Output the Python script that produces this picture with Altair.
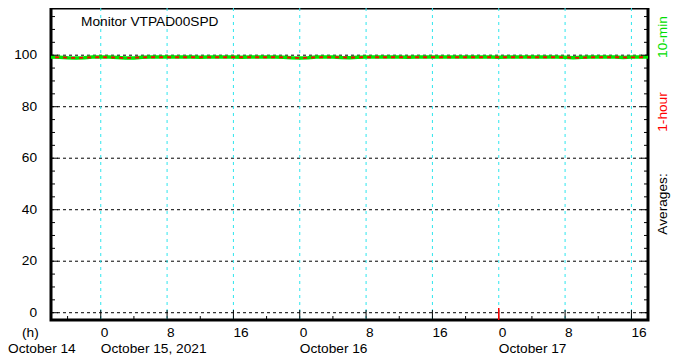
import altair as alt
import pandas as pd

W, H = 597, 312
FONT = "Liberation Sans"
FS = 13.7

# ---------------- data ----------------
green_vals = [99.3, 99.2, 99.0, 98.9, 99.0, 99.3, 99.3, 99.3, 99.1, 98.9,
              98.9, 99.2, 99.3, 99.3, 99.3, 99.3, 99.3, 99.3, 99.2, 99.3,
              99.3, 99.3, 99.3, 99.2, 99.3, 99.3, 99.3, 99.3, 99.2, 99.0,
              98.9, 99.0, 99.3, 99.3, 99.3, 99.1, 99.0, 99.2, 99.3, 99.3,
              99.3, 99.3, 99.3, 99.2, 99.3, 99.3, 99.3, 99.3, 99.3, 99.3,
              99.3, 99.3, 99.3, 99.3, 99.2, 99.3, 99.3, 99.3, 99.3, 99.3,
              99.3, 99.3, 99.2, 99.0, 99.2, 99.3, 99.3, 99.3, 99.3, 99.1,
              99.3, 99.3, 99.3]
red_vals = [99.2, 99.1, 99.0, 99.0, 99.1, 99.2, 99.2, 99.1, 99.0, 99.0,
            99.1, 99.2, 99.2, 99.2, 99.2, 99.2, 99.2, 99.2, 99.2, 99.2,
            99.2, 99.2, 99.2, 99.2, 99.2, 99.2, 99.2, 99.2, 99.1, 99.0,
            99.0, 99.1, 99.2, 99.2, 99.2, 99.1, 99.1, 99.2, 99.2, 99.2,
            99.2, 99.2, 99.2, 99.2, 99.2, 99.2, 99.2, 99.2, 99.2, 99.2,
            99.2, 99.2, 99.2, 99.2, 99.2, 99.2, 99.2, 99.2, 99.2, 99.2,
            99.2, 99.2, 99.1, 99.0, 99.1, 99.2, 99.2, 99.2, 99.2, 99.1,
            99.2, 99.2]

grid_times = ["2021-10-15T00:00:00", "2021-10-15T08:00:00", "2021-10-15T16:00:00",
              "2021-10-16T00:00:00", "2021-10-16T08:00:00", "2021-10-16T16:00:00",
              "2021-10-17T00:00:00", "2021-10-17T08:00:00", "2021-10-17T16:00:00"]
hour_labels = ["0", "8", "16", "0", "8", "16", "0", "8", "16"]
day_times = ["2021-10-15T00:00:00", "2021-10-16T00:00:00", "2021-10-17T00:00:00"]
day_labels = ["October 15, 2021", "October 16", "October 17"]
minor_x_ticks = ["2021-10-14T20:00:00", "2021-10-15T04:00:00", "2021-10-15T12:00:00",
                 "2021-10-15T20:00:00", "2021-10-16T04:00:00", "2021-10-16T12:00:00",
                 "2021-10-16T20:00:00", "2021-10-17T04:00:00", "2021-10-17T12:00:00"]
marker_time = ["2021-10-17T00:00:00"]
y_labels = [0, 20, 40, 60, 80, 100]
y_label_text = ["0", "20", "40", "60", "80", "100"]
y_minor = [5, 10, 15, 25, 30, 35, 45, 50, 55, 65, 70, 75, 85, 90, 95, 105, 110, 115]

green_t = pd.date_range("2021-10-14 18:00", periods=len(green_vals), freq="h").strftime("%Y-%m-%dT%H:%M:%S")
red_t = pd.date_range("2021-10-14 18:30", periods=len(red_vals), freq="h").strftime("%Y-%m-%dT%H:%M:%S")
green_df = pd.DataFrame({"t": green_t, "v": green_vals})
red_df = pd.DataFrame({"t": red_t, "v": red_vals})
grid_df = pd.DataFrame({"t": grid_times, "lab": hour_labels})
day_df = pd.DataFrame({"t": day_times, "lab": day_labels})
minx_df = pd.DataFrame({"t": minor_x_ticks})
mark_df = pd.DataFrame({"t": marker_time})
ymaj_df = pd.DataFrame({"v": y_labels, "lab": y_label_text})
ymin_df = pd.DataFrame({"v": y_minor})

xscale = alt.Scale(domain=[alt.DateTime(year=2021, month=10, date=14, hours=18),
                           alt.DateTime(year=2021, month=10, date=17, hours=18)])
yscale = alt.Scale(domain=[-2.83, 118.33], nice=False, zero=False)

X = alt.X("t:T", scale=xscale, axis=None)
Y = alt.Y("v:Q", scale=yscale, axis=None)

hgrid = alt.Chart(ymaj_df).mark_rule(color="black", strokeDash=[3, 3], strokeWidth=1).encode(
    y=Y, x=alt.value(0), x2=alt.value(W))
ylab = alt.Chart(ymaj_df).mark_text(align="right", baseline="middle", font=FONT,
                                    fontSize=FS, color="black").encode(
    y=Y, x=alt.value(-14), text="lab:N")

vgrid = alt.Chart(grid_df).mark_rule(color="#2ee6ee", strokeDash=[3, 4], strokeWidth=1).encode(x=X)

green = alt.Chart(green_df).mark_line(color="#00e600", strokeWidth=3.5).encode(x=X, y=Y)
red = alt.Chart(red_df).mark_line(color="#ff0000", strokeWidth=1.8, strokeDash=[4, 4]).encode(x=X, y=Y)

lt_maj = alt.Chart(ymaj_df).mark_rule(color="black").encode(y=Y, x=alt.value(0), x2=alt.value(7))
lt_min = alt.Chart(ymin_df).mark_rule(color="black").encode(y=Y, x=alt.value(0), x2=alt.value(4))
rt_maj = alt.Chart(ymaj_df).mark_rule(color="black").encode(y=Y, x=alt.value(W - 7), x2=alt.value(W))
rt_min = alt.Chart(ymin_df).mark_rule(color="black").encode(y=Y, x=alt.value(W - 4), x2=alt.value(W))
bt_maj = alt.Chart(grid_df).mark_rule(color="black").encode(x=X, y=alt.value(H - 10), y2=alt.value(H))
bt_min = alt.Chart(minx_df).mark_rule(color="black").encode(x=X, y=alt.value(H - 4), y2=alt.value(H))
marker = alt.Chart(mark_df).mark_rule(color="#ff0000", strokeWidth=1.5).encode(
    x=X, y=alt.value(H - 12), y2=alt.value(H))

hour_txt = alt.Chart(grid_df).mark_text(align="left", baseline="alphabetic", font=FONT,
                                        fontSize=FS, color="black").encode(
    x=X, y=alt.value(H + 17), text="lab:N")
day_txt = alt.Chart(day_df).mark_text(align="left", baseline="alphabetic", font=FONT,
                                      fontSize=FS, color="black").encode(
    x=X, y=alt.value(H + 33), text="lab:N")

def label(txt, x, y, color="black", angle=0, align="left"):
    return alt.Chart(pd.DataFrame({"s": [txt]})).mark_text(
        align=align, baseline="middle" if angle else "alphabetic", font=FONT, fontSize=FS,
        color=color, angle=angle).encode(x=alt.value(x), y=alt.value(y), text="s:N")

h_lab = label("(h)", -29, H + 17)
oct14 = label("October 14", -43, H + 33)
title = label("Monitor VTPAD00SPD", 30, 18)
ten = label("10-min", 612, 29, color="#00dd00", angle=270, align="center")
one = label("1-hour", 612, 104, color="#ff0000", angle=270, align="center")
avg = label("Averages:", 612, 196, angle=270, align="center")

chart = alt.layer(
    hgrid, vgrid, green, red, lt_maj, lt_min, rt_maj, rt_min, bt_maj, bt_min, marker,
    ylab, hour_txt, day_txt, h_lab, oct14, title, ten, one, avg
).properties(
    width=W, height=H,
    autosize=alt.AutoSizeParams(type="none"),
    padding={"left": 43, "top": 0, "right": 28, "bottom": 36},
).configure_view(stroke="black", strokeWidth=3)

chart.save("out.html", embed_options={"renderer": "svg", "actions": False})
